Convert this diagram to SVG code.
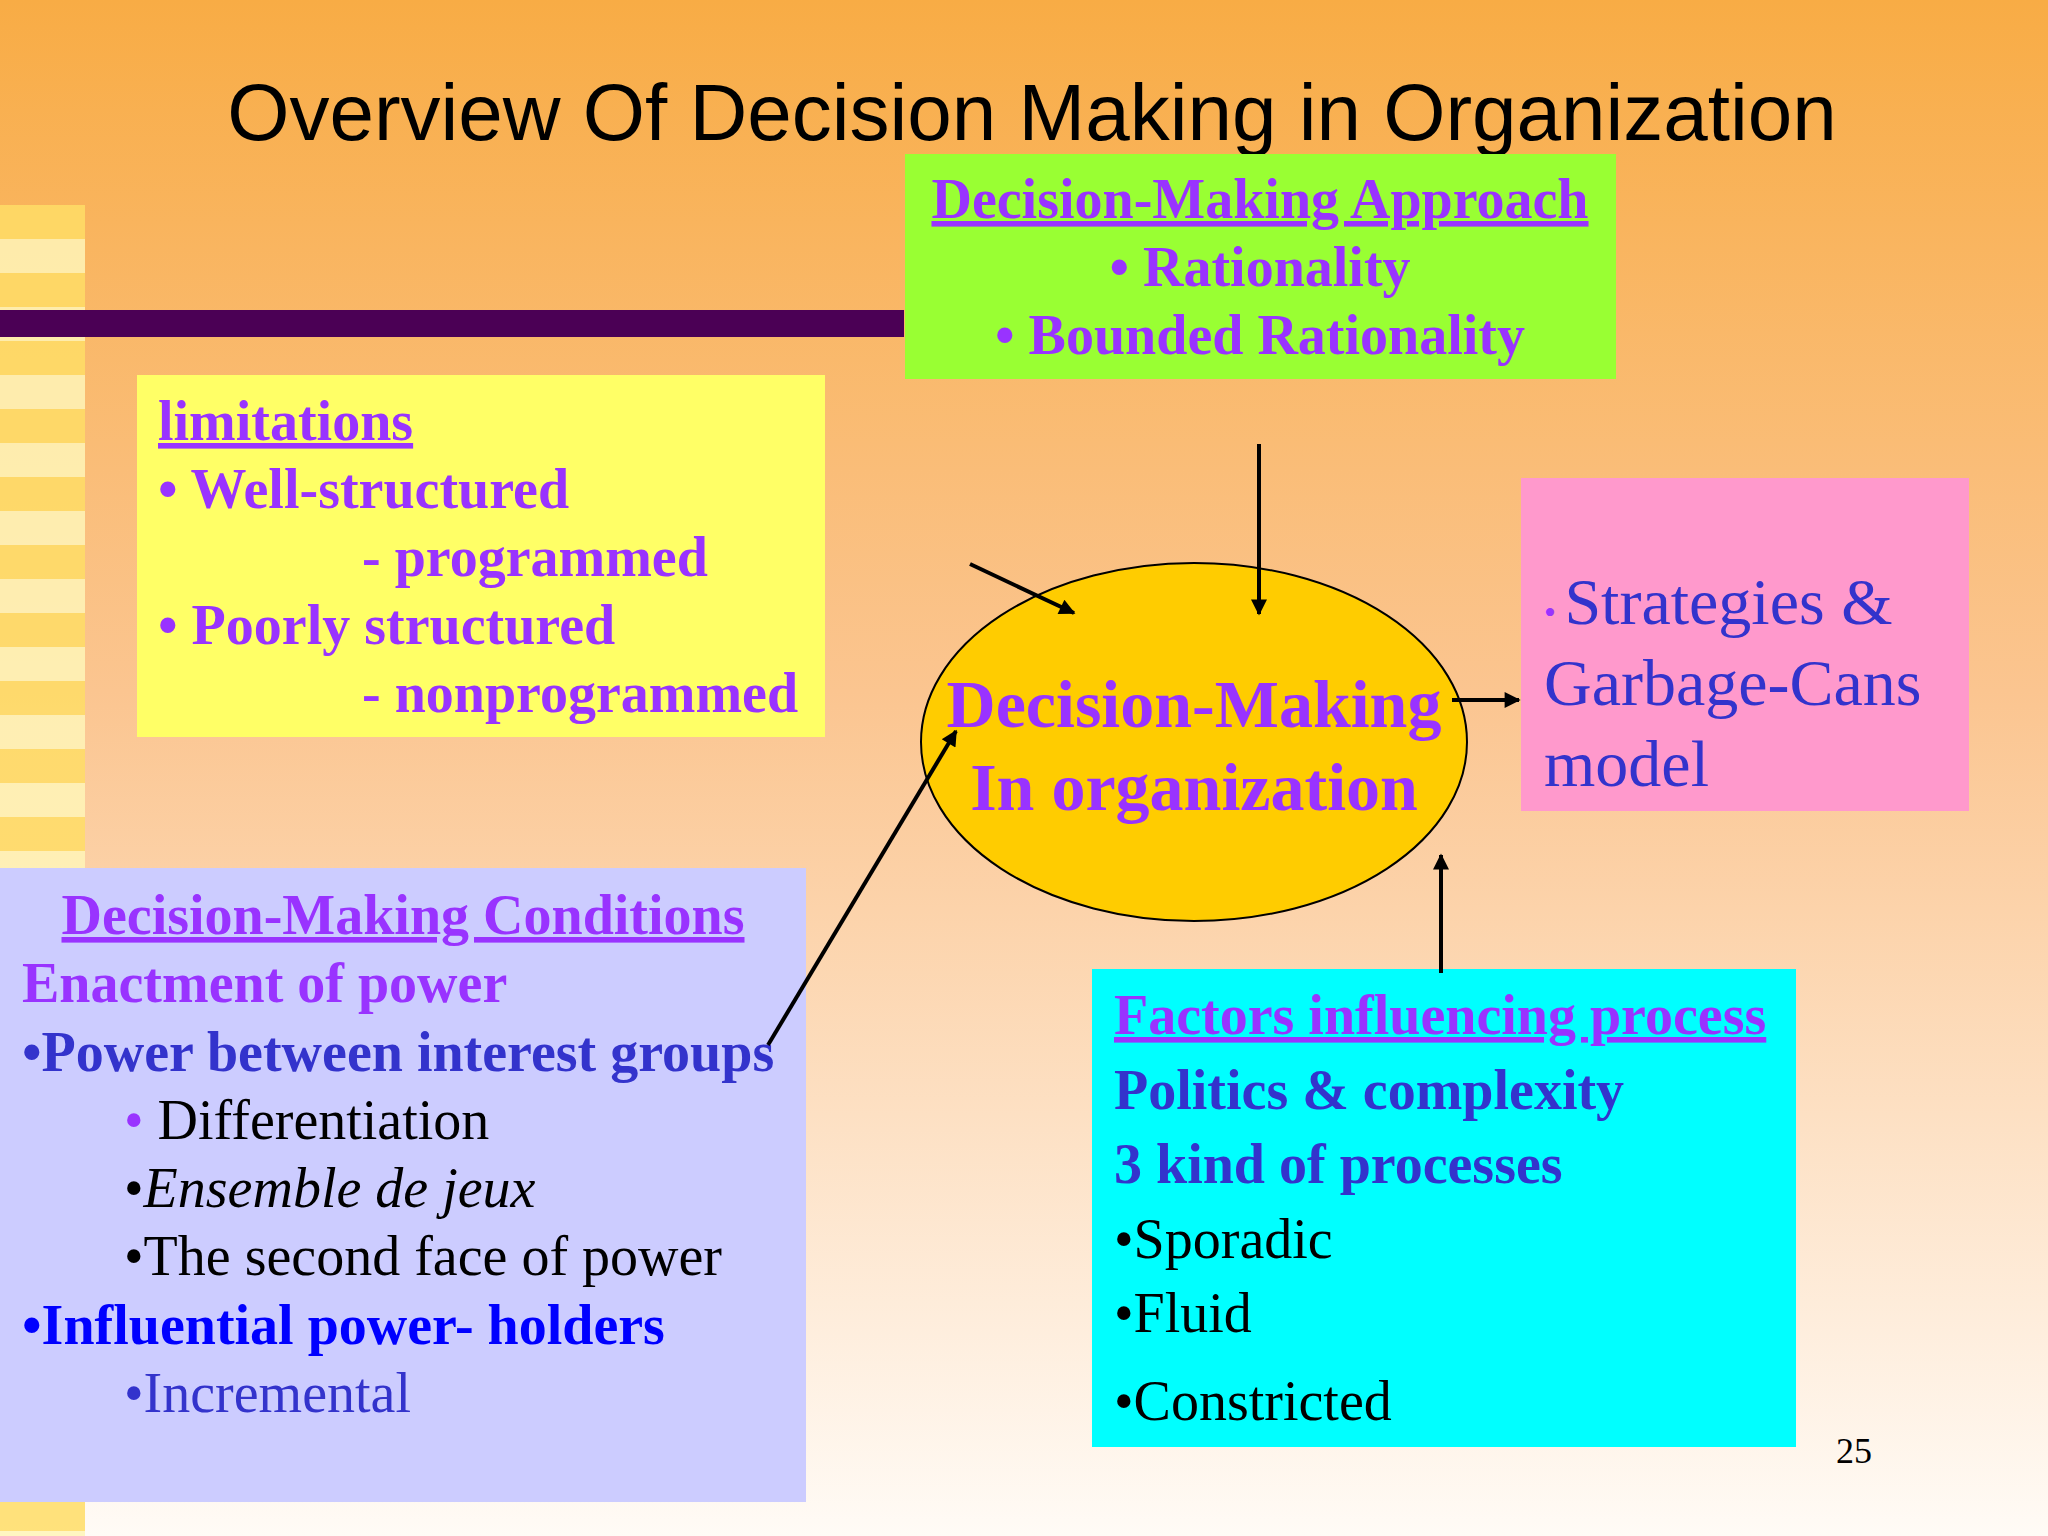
<svg xmlns="http://www.w3.org/2000/svg" width="2048" height="1536" viewBox="0 0 2048 1536">
<defs>
<linearGradient id="bg" x1="0" y1="0" x2="0" y2="1">
<stop offset="0" stop-color="#F8AC45"/>
<stop offset="0.45" stop-color="#FBC590"/>
<stop offset="1" stop-color="#FFFBF6"/>
</linearGradient>
<marker id="ah" viewBox="0 0 10 10" refX="9" refY="5" markerWidth="20" markerHeight="16" orient="auto" markerUnits="userSpaceOnUse">
<path d="M0,0 L10,5 L0,10 z" fill="#000"/>
</marker>
<pattern id="stripes" x="0" y="205" width="85" height="68" patternUnits="userSpaceOnUse">
<rect width="85" height="34" fill="#FFDD66"/>
<rect y="34" width="85" height="34" fill="#FFF5B8"/>
</pattern>
</defs>
<style>
.s{font-family:"Liberation Serif","Times New Roman",serif;font-size:56px}
.b{font-weight:bold}
.p{fill:#9933FF}
.d{fill:#3333CC}
.u{text-decoration:underline}
.k{fill:#000}
.c{stroke:#000;stroke-width:4}
</style>
<rect width="2048" height="1536" fill="url(#bg)"/>
<rect x="0" y="205" width="85" height="1331" fill="url(#stripes)" opacity="0.85"/>
<rect x="0" y="310" width="904" height="27" fill="#4B0055"/>
<text x="1032" y="140" text-anchor="middle" font-family="Liberation Sans, Arial, sans-serif" font-size="80" fill="#000">Overview Of Decision Making in Organization</text>

<g id="approach">
<rect x="905" y="154" width="711" height="225" fill="#99FF33"/>
<text class="s b p" text-anchor="middle"><tspan x="1260" y="218" class="u">Decision-Making Approach</tspan><tspan x="1260" y="286">• Rationality</tspan><tspan x="1260" y="354">• Bounded Rationality</tspan></text>
</g>

<g id="limitations">
<rect x="137" y="375" width="688" height="362" fill="#FFFF66"/>
<text class="s b p"><tspan x="158" y="440" class="u">limitations</tspan><tspan x="158" y="508">• Well-structured</tspan><tspan x="362" y="576">- programmed</tspan><tspan x="158" y="644">• Poorly structured</tspan><tspan x="362" y="712">- nonprogrammed</tspan></text>
</g>

<g id="center">
<ellipse cx="1194" cy="742" rx="273" ry="179" fill="#FFCC00" stroke="#000" stroke-width="2"/>
<text class="s b p" style="font-size:68px" text-anchor="middle"><tspan x="1194" y="727">Decision-Making</tspan><tspan x="1194" y="810">In organization</tspan></text>
</g>

<g id="strategies">
<rect x="1521" y="478" width="448" height="333" fill="#FF99CC"/>
<text class="s d" style="font-size:66px"><tspan x="1544" y="624"><tspan class="p" style="font-size:34px">• </tspan>Strategies &amp;</tspan><tspan x="1544" y="705">Garbage-Cans</tspan><tspan x="1544" y="786">model</tspan></text>
</g>

<g id="conditions">
<rect x="0" y="868" width="806" height="634" fill="#CCCCFF"/>
<text class="s b p u" x="403" y="934" text-anchor="middle">Decision-Making Conditions</text>
<text class="s b p" x="22" y="1002">Enactment of power</text>
<text class="s b d" x="22" y="1071">•Power between interest groups</text>
<text class="s k" x="124" y="1139"><tspan class="p">• </tspan>Differentiation</text>
<text class="s k" x="124" y="1207">•<tspan font-style="italic">Ensemble de jeux</tspan></text>
<text class="s k" x="124" y="1275">•The second face of power</text>
<text class="s b" fill="#0000FF" x="22" y="1344">•Influential power- holders</text>
<text class="s d" x="124" y="1412">•Incremental</text>
</g>

<g id="factors">
<rect x="1092" y="969" width="704" height="478" fill="#00FFFF"/>
<text class="s b p u" x="1114" y="1034">Factors influencing process</text>
<text class="s b d" x="1114" y="1109">Politics &amp; complexity</text>
<text class="s b d" x="1114" y="1183">3 kind of processes</text>
<text class="s k" x="1114" y="1258">•Sporadic</text>
<text class="s k" x="1114" y="1332">•Fluid</text>
<text class="s k" x="1114" y="1420">•Constricted</text>
</g>

<text x="1836" y="1463" font-family="Liberation Serif, serif" font-size="36" fill="#000">25</text>

<g id="connectors">
<line class="c" x1="970" y1="564" x2="1074" y2="613" marker-end="url(#ah)"/>
<line class="c" x1="1259" y1="444" x2="1259" y2="614" marker-end="url(#ah)"/>
<line class="c" x1="1452" y1="700" x2="1519" y2="700" marker-end="url(#ah)"/>
<line class="c" x1="1441" y1="973" x2="1441" y2="855" marker-end="url(#ah)"/>
<line class="c" x1="768" y1="1045" x2="956" y2="731" marker-end="url(#ah)"/>
</g>
</svg>
